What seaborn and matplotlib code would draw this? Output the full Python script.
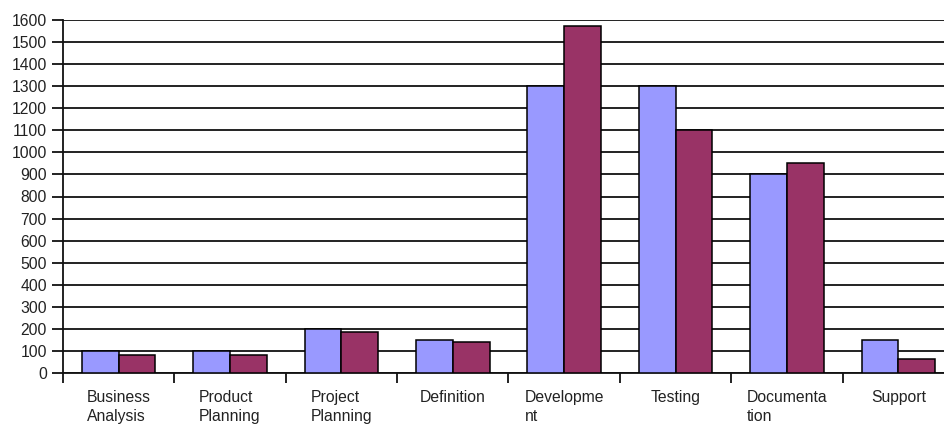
import numpy as np
import pandas as pd
import matplotlib
matplotlib.use("Agg")
import matplotlib.pyplot as plt
import seaborn as sns

# Effort per project phase, planned vs. actual (hours)
phases = ["Business\nAnalysis", "Product\nPlanning", "Project\nPlanning", "Definition",
          "Developme\nnt", "Testing", "Documenta\ntion", "Support"]
planned = [100, 100, 200, 150, 1300, 1300, 900, 150]
actual = [80, 80, 185, 140, 1575, 1100, 950, 65]
series_names = ["Planned", "Actual"]
y_ticks = list(range(0, 1601, 100))

df = pd.DataFrame({
    "phase": phases * 2,
    "hours": planned + actual,
    "series": [series_names[0]] * len(phases) + [series_names[1]] * len(phases),
})

sns.set_style("white")
plt.rcParams["font.family"] = ["Liberation Sans", "DejaVu Sans"]

fig = plt.figure(figsize=(9.45, 4.26), dpi=100)
ax = fig.add_axes([63 / 945, 53 / 426, 891 / 945, 353 / 426])

sns.barplot(data=df, x="phase", y="hours", hue="series", order=phases,
            hue_order=series_names, palette=["#9999FF", "#993366"],
            saturation=1, width=0.66, edgecolor="black", linewidth=1.1,
            legend=False, ax=ax, zorder=3)

ax.set_xlim(-0.5, len(phases) - 0.5)
ax.set_ylim(0, 1600)
ax.set_yticks(y_ticks)
ax.set_yticklabels([str(v) for v in y_ticks])
ax.yaxis.grid(True, color="#111111", linewidth=1.3, zorder=0)
ax.set_axisbelow(True)

ax.set_xlabel("")
ax.set_ylabel("")

# category boundaries carry the tick marks; labels sit centred without ticks
ax.set_xticks(np.arange(-0.5, len(phases), 1.0), minor=True)
ax.tick_params(axis="x", which="minor", length=7.5, width=1.3, color="#111111",
               direction="out", bottom=True)
ax.tick_params(axis="x", which="major", length=0, pad=12.5, labelsize=11.3,
               labelcolor="#222222")
for lbl in ax.get_xticklabels():
    lbl.set_multialignment("left")
    lbl.set_verticalalignment("top")
    lbl.set_linespacing(1.3)

ax.tick_params(axis="y", which="major", length=8, width=1.3, color="#111111",
               direction="out", left=True, pad=3.5, labelsize=11.3,
               labelcolor="#222222")

for side in ["top", "right"]:
    ax.spines[side].set_visible(False)
ax.spines["left"].set_color("#111111")
ax.spines["left"].set_linewidth(1.3)
ax.spines["bottom"].set_color("#111111")
ax.spines["bottom"].set_linewidth(1.3)

fig.savefig("out.png", dpi=100, facecolor="white")
